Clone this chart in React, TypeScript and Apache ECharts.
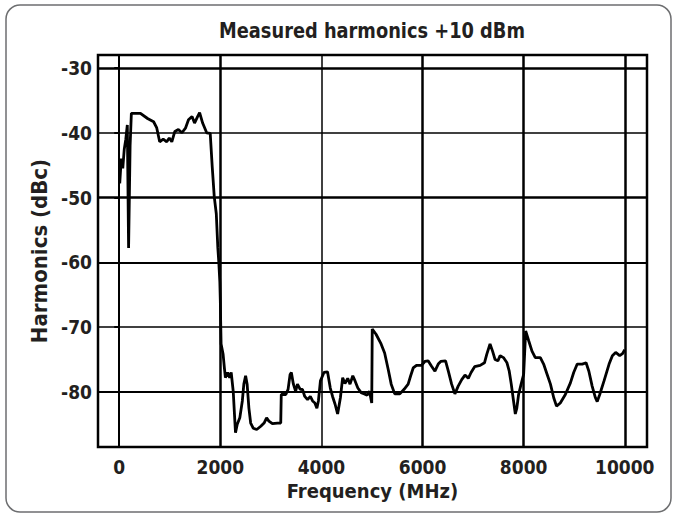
import React, { useEffect, useRef } from "react";
import * as echarts from "echarts";

const xTicks = [0, 2000, 4000, 6000, 8000, 10000];
const yTicks = [-30, -40, -50, -60, -70, -80];
const xGridWidths = [2, 2.5, 1.5, 2.5, 2.5, 2.5];
const yGridWidths = [2.5, 1.5, 2.5, 2, 1.5, 2.2];

const freq = [
  10, 40, 70, 100, 130, 160, 185, 200, 215, 240, 420, 560, 680, 740, 800, 870, 940, 990, 1040, 1100,
  1170, 1240, 1310, 1370, 1440, 1490, 1550, 1590, 1650, 1730, 1800, 1840, 1880, 1920, 1950, 1970, 1990, 2000, 2005, 2015,
  2055, 2080, 2100, 2145, 2185, 2215, 2255, 2280, 2300, 2335, 2385, 2435, 2465, 2500, 2530, 2565, 2600, 2650, 2720, 2800,
  2865, 2915, 2960, 3030, 3130, 3195, 3205, 3295, 3340, 3380, 3405, 3445, 3490, 3525, 3580, 3625, 3670, 3725, 3780, 3825,
  3870, 3910, 3940, 3980, 4050, 4120, 4175, 4220, 4270, 4320, 4375, 4420, 4465, 4520, 4565, 4620, 4665, 4720, 4785, 4850,
  4905, 4950, 4995, 5005, 5080, 5180, 5250, 5320, 5380, 5450, 5550, 5635, 5715, 5765, 5815, 5880, 5980, 6045, 6110, 6175,
  6245, 6310, 6360, 6455, 6510, 6575, 6640, 6705, 6775, 6840, 6905, 6960, 7030, 7140, 7225, 7270, 7335, 7385, 7435, 7490,
  7535, 7600, 7670, 7715, 7755, 7800, 7835, 7865, 7900, 7950, 8000, 8040, 8100, 8165, 8230, 8330, 8395, 8465, 8530, 8595,
  8650, 8725, 8825, 8925, 8990, 9060, 9160, 9235, 9290, 9355, 9420, 9455, 9505, 9590, 9690, 9755, 9820, 9900, 9955, 10000,
];
const harmonics = [
  -47.8, -44, -45.5, -42.5, -41, -38.8, -57.8, -50, -42, -37, -37, -37.8, -38.3, -39.2, -41.4, -41, -41.4, -40.8, -41.4, -39.8,
  -39.5, -40, -39.3, -38, -37.5, -38.5, -37.5, -36.9, -38.5, -40, -40.1, -45.3, -49.9, -52.5, -57.7, -60, -63, -66, -68.5, -72.6,
  -74.2, -76.3, -77.8, -77, -77.8, -77, -79.9, -83.5, -86.3, -85, -84, -81.4, -78.8, -77.5, -78.8, -82.5, -84.8, -85.6, -85.8, -85.3,
  -84.8, -84, -84.5, -84.9, -84.8, -84.8, -80.4, -80.4, -79.6, -77.3, -77, -78.8, -79.9, -78.8, -79.6, -79.6, -80.7, -81.2, -80.7, -81.4,
  -81.7, -82.5, -81.4, -78.3, -77, -76.9, -79.4, -80.7, -81.9, -83.4, -80.9, -77.8, -78.7, -77.9, -78.8, -77.5, -78.3, -79.4, -80.1, -80.3,
  -80.5, -79.9, -81.7, -70.3, -71.1, -72.6, -74, -76.5, -78.8, -80.3, -80.3, -79.6, -78.8, -77.5, -76.3, -75.9, -75.9, -75.3, -75.2, -76,
  -76.8, -75.7, -75.3, -75.2, -76.8, -78.8, -80.3, -79.1, -78.1, -77.4, -77.9, -77, -76.1, -75.9, -75.5, -74.2, -72.6, -73.7, -75, -75.2,
  -74.4, -74.7, -75.5, -76.8, -78.8, -81.4, -83.4, -82.5, -80.4, -78.8, -77.3, -70.6, -72.1, -73.7, -74.7, -74.7, -75.7, -77.3, -78.8, -80.9,
  -82.2, -81.7, -80.4, -78.6, -77, -75.7, -75.7, -75.5, -76.8, -79.1, -80.9, -81.5, -80.4, -78.3, -75.7, -74.4, -73.9, -74.4, -74.1, -73.5,
];

const FONT = "'DejaVu Sans Condensed', 'Liberation Sans Narrow', sans-serif";
const TEXT_COLOR = "#231f20";

export default function App() {
  const ref = useRef<HTMLDivElement>(null);
  useEffect(() => {
    if (!ref.current) return;
    const chart = echarts.init(ref.current, null, { renderer: "svg" });
    const gridLines = [
      ...xTicks.map((v, i) => ({ xAxis: v, lineStyle: { width: xGridWidths[i], color: "#000", type: "solid" } })),
      ...yTicks.map((v, i) => ({ yAxis: v, lineStyle: { width: yGridWidths[i], color: "#000", type: "solid" } })),
    ];
    chart.setOption({
      animation: false,
      backgroundColor: "#ffffff",
      graphic: [
        {
          type: "rect",
          shape: { x: 6, y: 5, width: 665, height: 507, r: 14 },
          style: { fill: "none", stroke: "#6d6e70", lineWidth: 1.5 },
          silent: true,
        },
        {
          type: "text",
          x: 372,
          y: 31,
          scaleX: 0.9,
          style: {
            text: "Measured harmonics +10 dBm",
            font: `bold 22px ${FONT}`,
            fill: TEXT_COLOR,
            textAlign: "center",
            textVerticalAlign: "middle",
          },
        },
      ],
      grid: {
        left: 98,
        right: 30,
        top: 55,
        bottom: 70,
        show: true,
        borderColor: "#000",
        borderWidth: 2.5,
        backgroundColor: "transparent",
      },
      xAxis: {
        type: "value",
        min: -420,
        max: 10440,
        name: "Frequency (MHz)",
        nameLocation: "middle",
        nameGap: 33,
        nameTextStyle: { fontFamily: FONT, fontSize: 20, fontWeight: "bold", color: TEXT_COLOR },
        axisLine: { show: false },
        axisTick: { show: false },
        splitLine: { show: false },
        axisLabel: {
          customValues: xTicks,
          formatter: (v: number) => String(v),
          fontFamily: FONT,
          fontSize: 19,
          fontWeight: "bold",
          color: TEXT_COLOR,
          margin: 10,
        },
      },
      yAxis: {
        type: "value",
        min: -88.5,
        max: -28,
        name: "Harmonics (dBc)",
        nameLocation: "middle",
        nameGap: 39,
        nameRotate: 90,
        nameTextStyle: { fontFamily: FONT, fontSize: 22, fontWeight: "bold", color: TEXT_COLOR },
        axisLine: { show: false },
        axisTick: { show: true, customValues: yTicks, length: 5, lineStyle: { width: 2, color: "#000" } },
        splitLine: { show: false },
        axisLabel: {
          customValues: yTicks,
          formatter: (v: number) => String(v),
          fontFamily: FONT,
          fontSize: 19,
          fontWeight: "bold",
          color: TEXT_COLOR,
          margin: 6,
        },
      },
      series: [
        {
          type: "line",
          data: freq.map((f, i) => [f, harmonics[i]]),
          showSymbol: false,
          symbol: "none",
          lineStyle: { color: "#000", width: 2.8 },
          markLine: {
            silent: true,
            symbol: ["none", "none"],
            label: { show: false },
            data: gridLines,
          },
        },
      ],
    });
    return () => chart.dispose();
  }, []);
  return (
    <div
      ref={ref}
      style={{ position: "fixed", left: 0, top: 0, width: 677, height: 517, background: "#fff" }}
    />
  );
}
